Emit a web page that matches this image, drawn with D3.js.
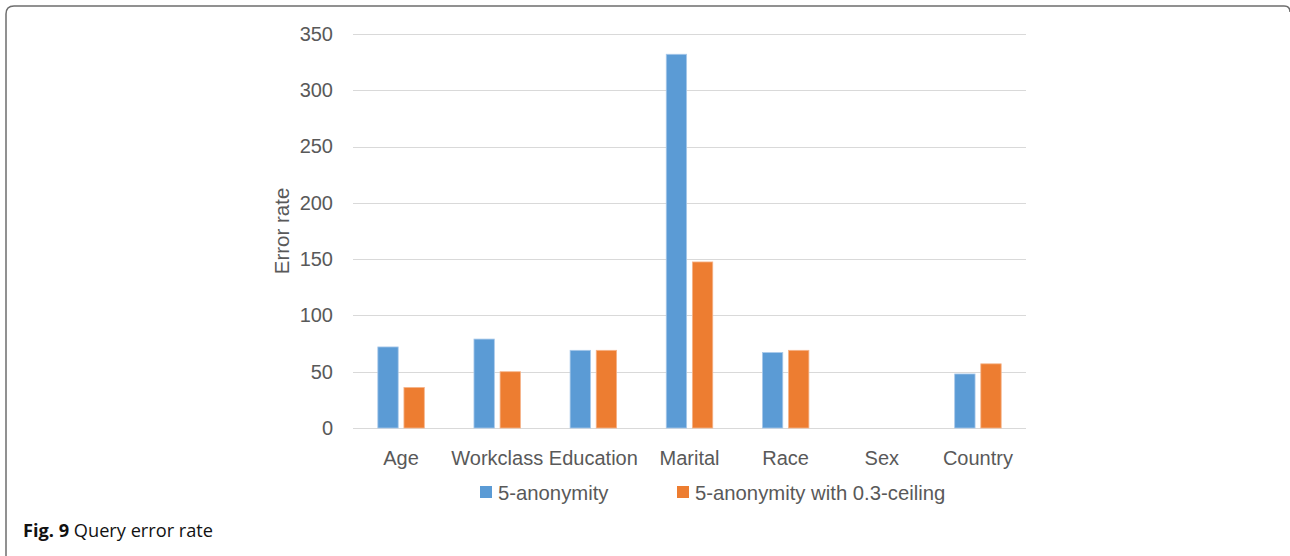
<!DOCTYPE html>
<html><head><meta charset="utf-8">
<script src="https://cdn.jsdelivr.net/npm/d3@7"></script>
<style>body{margin:0;background:#fff;}svg{display:block;}</style>
</head><body>
<svg id="c" width="1290" height="556"></svg>
<script>
const categories = ["Age","Workclass","Education","Marital","Race","Sex","Country"];
const seriesNames = ["5-anonymity","5-anonymity with 0.3-ceiling"];
const anon5 = [72, 79, 69, 332, 67, 0, 48];
const anon5Ceiling = [36, 50, 69, 147.5, 69, 0, 57];
const yTicks = [0,50,100,150,200,250,300,350];
const colors = ["#5B9BD5","#ED7D31"];

const FONT = "Liberation Sans, Arial, sans-serif";
const svg = d3.select("#c");
// frame
svg.append("path")
  .attr("d","M6,1000 L6,14 Q6,6 14,6 L1284,6 Q1290,6 1290,12")
  .attr("fill","none").attr("stroke","#6e6e6e").attr("stroke-width",1.5);

const x0 = d3.scaleBand().domain(categories).range([353,1026]).paddingInner(0).paddingOuter(0);
const y = d3.scaleLinear().domain([0,350]).range([428,34]);
const x1 = d3.scaleBand().domain([0,1]).range([0,x0.bandwidth()]).paddingInner(0.22).paddingOuter(0.95);

// grid
svg.append("g").selectAll("line").data(yTicks).join("line")
  .attr("x1",353).attr("x2",1026)
  .attr("y1",d=>Math.round(y(d))+0.5).attr("y2",d=>Math.round(y(d))+0.5)
  .attr("stroke","#d9d9d9").attr("stroke-width",1);

// y axis
const yAxis = d3.axisLeft(y).tickValues(yTicks).tickSize(0).tickPadding(20);
const ga = svg.append("g").attr("transform","translate(353,0)").call(yAxis);
ga.select(".domain").remove();
ga.selectAll("text").attr("font-family",FONT).attr("font-size",20).attr("fill","#595959");

// x axis
const xAxis = d3.axisBottom(x0).tickSize(0).tickPadding(23);
const gx = svg.append("g").attr("transform","translate(0,428)").call(xAxis);
gx.select(".domain").remove();
gx.selectAll("text").attr("font-family",FONT).attr("font-size",20).attr("fill","#595959");

// bars
const data = categories.map((c,i)=>({c, v:[anon5[i], anon5Ceiling[i]]}));
const g = svg.append("g");
data.forEach(d=>{
  d.v.forEach((v,k)=>{
    if (v<=0) return;
    g.append("rect")
      .attr("x", x0(d.c)+x1(k))
      .attr("width", x1.bandwidth())
      .attr("y", y(v))
      .attr("height", y(0)-y(v))
      .attr("fill", colors[k])
      .attr("stroke", k===0 ? "#a9c9ea" : "#f5b48a").attr("stroke-width",0.8);
  });
});

// y label
svg.append("text").attr("transform","translate(289,231) rotate(-90)")
  .attr("text-anchor","middle").attr("font-family",FONT)
  .attr("font-size",20.5).attr("fill","#595959").text("Error rate");

// legend
const legendX = [480, 677];
seriesNames.forEach((n,k)=>{
  svg.append("rect").attr("x",legendX[k]).attr("y",486).attr("width",12).attr("height",12).attr("fill",colors[k]);
  svg.append("text").attr("x",legendX[k]+18).attr("y",500)
    .attr("font-family",FONT).attr("font-size",20.3).attr("fill","#595959").text(n);
});

// caption
const cap = svg.append("text").attr("x",23).attr("y",537)
  .attr("font-family","Open Sans, Noto Sans, sans-serif").attr("font-size",18.2).attr("fill","#111");
cap.append("tspan").attr("font-weight","bold").text("Fig. 9");
cap.append("tspan").text(" Query error rate");
</script>
</body></html>
